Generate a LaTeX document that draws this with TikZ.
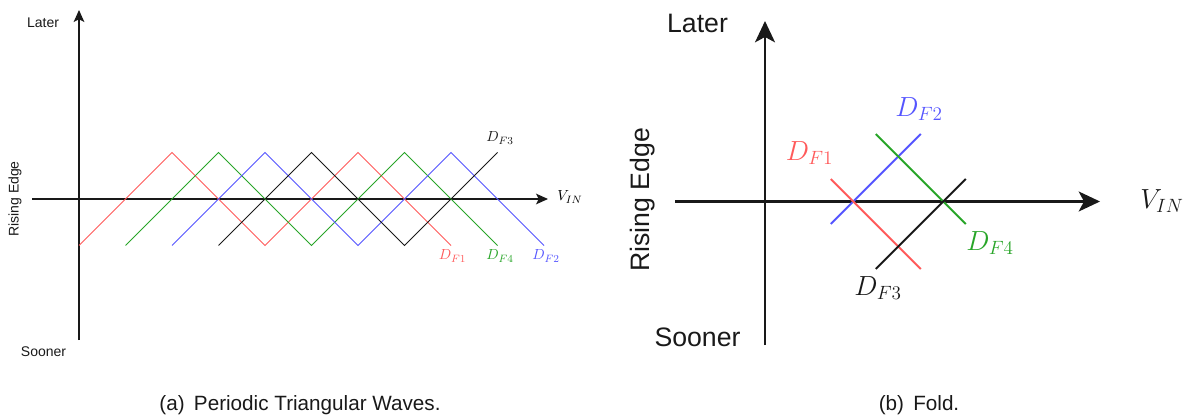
\documentclass[tikz,border=0pt]{standalone}
\usepackage{fontspec}
\newfontfamily\arial{Liberation Sans}
\usetikzlibrary{arrows.meta}
\definecolor{cred}{RGB}{255,90,90}
\definecolor{cgreen}{RGB}{40,165,40}
\definecolor{cblue}{RGB}{85,85,255}
\definecolor{cblack}{RGB}{25,25,25}
\begin{document}
\begin{tikzpicture}[x=0.75pt,y=-0.75pt,
  axisA/.style={draw=cblack,line width=0.9pt,-{Stealth[length=9pt,width=8pt,inset=2pt]}},
  axisB/.style={draw=cblack,line width=1.6pt,-{Stealth[length=16pt,width=15pt,inset=4pt]}},
  waveA/.style={line width=0.75pt},
  lineB/.style={line width=1.5pt},
  lblA/.style={font=\arial\fontsize{10.5}{12}\selectfont,text=cblack,inner sep=0pt},
  lblB/.style={font=\arial\fontsize{20}{24}\selectfont,text=cblack,inner sep=0pt},
  mathA/.style={font=\fontsize{11}{13}\selectfont,inner sep=0pt},
  mathB/.style={font=\fontsize{21}{25}\selectfont,inner sep=0pt},
  capt/.style={font=\arial\fontsize{15.5}{18}\selectfont,text=cblack,inner sep=0pt}]
\useasboundingbox (0,0) rectangle (1195,417);
% ---------------- panel (a)
\coordinate (a-vb) at (79,340);
\coordinate (a-vt) at (79,10);
\coordinate (a-hl) at (32,199);
\coordinate (a-hr) at (548,199);
\draw[axisA] (a-vb) -- (a-vt);
\draw[axisA] (a-hl) -- (a-hr);
\node[lblA] (a-later) at (43,23) {Later};
\node[lblA] (a-sooner) at (43.5,352) {Sooner};
\node[lblA,rotate=90] (a-rise) at (15,199) {Rising Edge};
\node[mathA,anchor=west] (a-vin) at (557,197) {$V_{IN}$};
\begin{scope}[shift={(79,199)},x=34.875pt,y=34.875pt]
  \draw[waveA,cred]   (0,-1) -- (2,1) -- (4,-1) -- (6,1) -- (8,-1);
  \draw[waveA,cgreen] (1,-1) -- (3,1) -- (5,-1) -- (7,1) -- (9,-1);
  \draw[waveA,cblue]  (2,-1) -- (4,1) -- (6,-1) -- (8,1) -- (10,-1);
  \draw[waveA,cblack] (3,-1) -- (5,1) -- (7,-1) -- (9,1);
\end{scope}
\node[mathA,text=cblack] (a-f3) at (500,138) {$D_{F3}$};
\node[mathA,text=cred] (a-f1) at (452.5,256) {$D_{F1}$};
\node[mathA,text=cgreen] (a-f4) at (500,256) {$D_{F4}$};
\node[mathA,text=cblue] (a-f2) at (546,256) {$D_{F2}$};
\node[capt] (a-cap) at (300,405) {(a)\hspace{0.45em}Periodic Triangular Waves.};
% ---------------- panel (b)
\coordinate (b-vb) at (765,345);
\coordinate (b-vt) at (765,21);
\coordinate (b-hl) at (675,201.5);
\coordinate (b-hr) at (1100,201.5);
\draw[axisB] (b-vb) -- (b-vt);
\draw[axisB] (b-hl) -- (b-hr);
\node[lblB] (b-later) at (697.5,23) {Later};
\node[lblB] (b-sooner) at (697.5,337) {Sooner};
\node[lblB,rotate=90] (b-rise) at (643,200) {Rising Edge};
\node[mathB,anchor=west,text=cblack] (b-vin) at (1140,201) {$V_{IN}$};
\begin{scope}[shift={(898.3,201.5)},x=33.75pt,y=33.75pt]
  \draw[lineB,cblue]  (-1.5,-0.5) -- (0.5,1.5);
  \draw[lineB,cgreen] (-0.5,1.5) -- (1.5,-0.5);
  \draw[lineB,cred]   (-1.5,0.5) -- (0.5,-1.5);
  \draw[lineB,cblack] (-0.5,-1.5) -- (1.5,0.5);
\end{scope}
\node[mathB,text=cblue] (b-f2) at (919,109) {$D_{F2}$};
\node[mathB,text=cred] (b-f1) at (809.6,153) {$D_{F1}$};
\node[mathB,text=cgreen] (b-f4) at (990,243) {$D_{F4}$};
\node[mathB,text=cblack] (b-f3) at (878,288) {$D_{F3}$};
\node[capt] (b-cap) at (919,405) {(b)\hspace{0.45em}Fold.};
\end{tikzpicture}
\end{document}
